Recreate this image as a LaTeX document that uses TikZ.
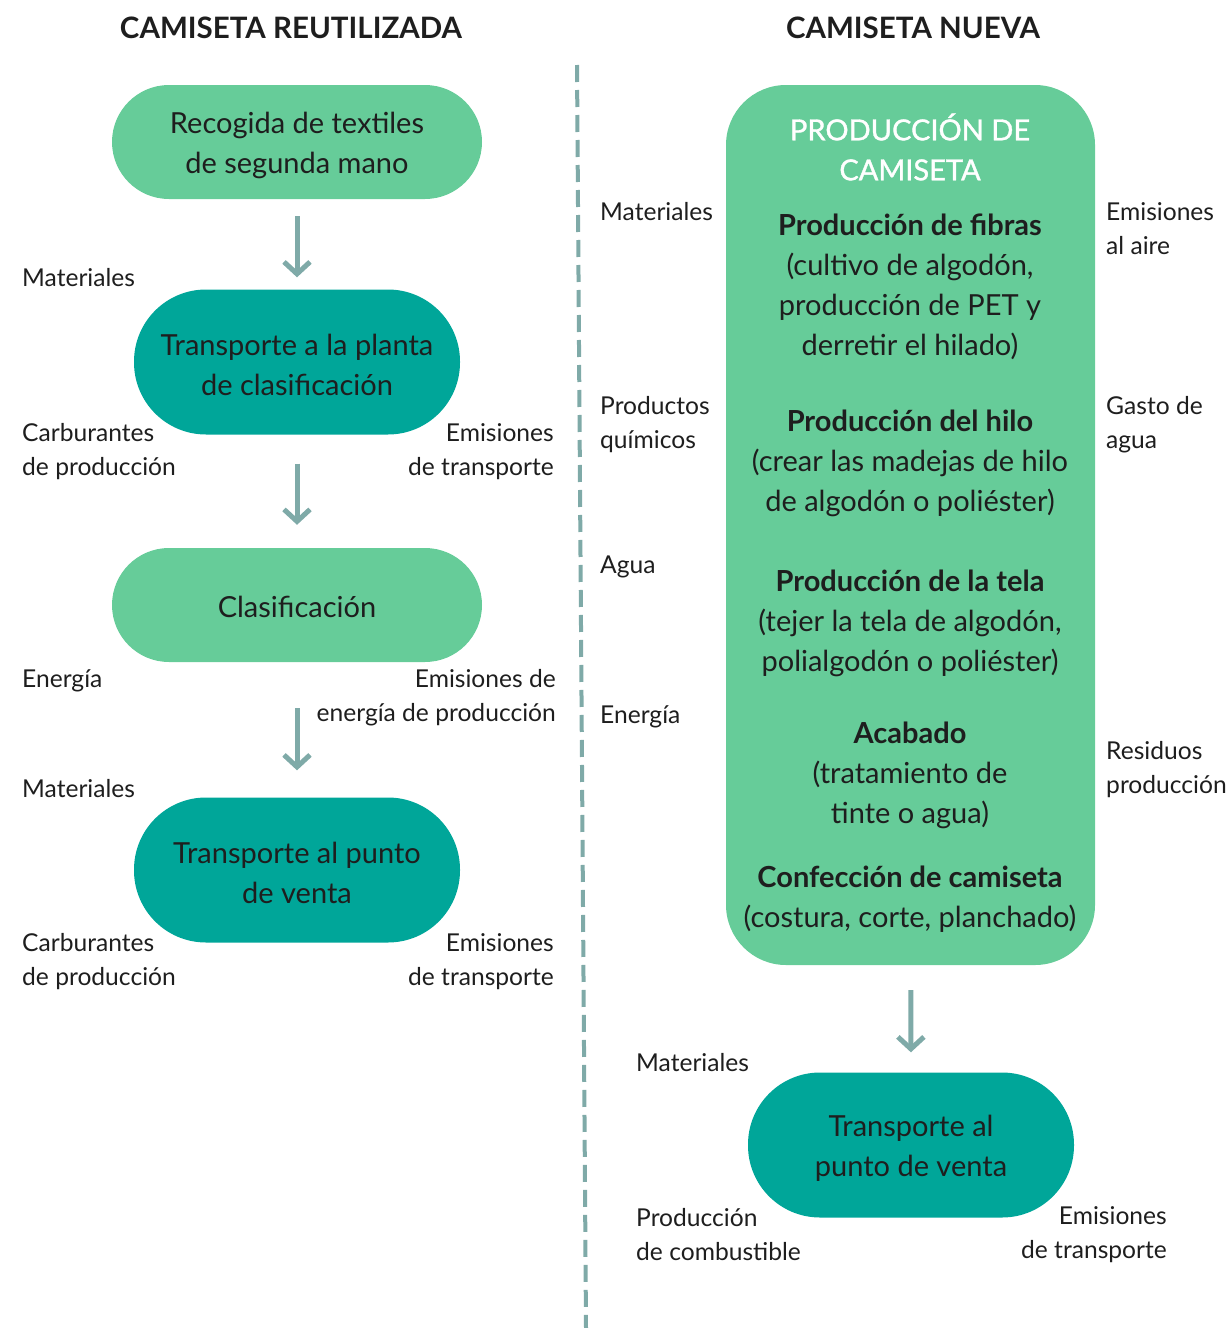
\documentclass[tikz,border=0pt]{standalone}
\usepackage{fontspec}
\setmainfont{Lato}
\newfontfamily\titlefont[FakeBold=1.2]{Lato}
\usetikzlibrary{arrows.meta}
\definecolor{lg}{HTML}{66CC99}
\definecolor{tl}{HTML}{00A699}
\definecolor{ar}{HTML}{7FAAA8}
\definecolor{tx}{HTML}{1E1E1E}
\begin{document}
\begin{tikzpicture}[x=1pt,y=-1pt,
  box/.style={fill=lg, rounded corners=57pt, minimum width=370pt, minimum height=114pt, inner sep=0pt},
  tbox/.style={fill=tl, rounded corners=72pt, minimum width=326pt, minimum height=145pt, inner sep=0pt},
  btext/.style={align=center, font=\fontsize{29}{40}\selectfont, text=tx, inner sep=0pt},
  lab/.style={font=\fontsize{24.6}{34}\selectfont, text=tx, inner sep=0pt},
  sec/.style={font=\fontsize{29}{40}\selectfont, text=tx, inner sep=0pt, align=center},
  hdr/.style={font=\fontsize{29.5}{32}\selectfont\bfseries, text=tx, inner sep=0pt},
  arr/.style={draw=ar, line width=5pt, -{Straight Barb[length=12pt,width=26pt]}}]
\useasboundingbox (0,0) rectangle (1230,1328);
% headers
\node[hdr] (h1) at (291,28) {CAMISETA REUTILIZADA};
\node[hdr] (h2) at (913,28) {CAMISETA NUEVA};
% dashed divider
\coordinate (dtop) at (577,65);
\coordinate (dbot) at (586,1328);
\draw[ar, line width=4pt, dash pattern=on 17pt off 8pt] (dtop) -- (dbot);
% left column
\node[box] (b1) at (297,142) {};
\node[btext] (b1t) at (297,145) {Recogida de textiles\\de segunda mano};
\node[tbox] (b2) at (297,362) {};
\node[btext] (b2t) at (297,365) {Transporte a la planta\\de clasificación};
\node[box] (b3) at (297,605) {};
\node[btext] (b3t) at (297,607) {Clasificación};
\node[tbox] (b4) at (297,870) {};
\node[btext] (b4t) at (297,873) {Transporte al punto\\de venta};
\draw[arr, shorten <=17pt, shorten >=12pt] (b1) -- (b2);
\draw[arr, shorten <=29pt, shorten >=23pt] (b2) -- (b3);
\draw[arr, shorten <=46pt, shorten >=27pt] (b3) -- (b4);
\node[lab, anchor=west] (l1) at (22,278) {Materiales};
\node[lab, anchor=west, align=left] (l2) at (22,452) {Carburantes\\de producción};
\node[lab, anchor=east, align=right] (l3) at (554,452) {Emisiones\\de transporte};
\node[lab, anchor=west] (l4) at (22,681) {Energía};
\node[lab, anchor=east, align=right] (l5) at (556,698) {Emisiones de\\energía de producción};
\node[lab, anchor=west] (l6) at (22,789) {Materiales};
\node[lab, anchor=west, align=left] (l7) at (22,962) {Carburantes\\de producción};
\node[lab, anchor=east, align=right] (l8) at (554,962) {Emisiones\\de transporte};
% right column
\node[fill=lg, rounded corners=60pt, minimum width=369pt, minimum height=880pt, inner sep=0pt] (big) at (910.5,525) {};
\node[sec, text=white, font=\fontsize{29}{40}\titlefont] (t0) at (910,147) {PRODUCCIÓN DE\\CAMISETA};
\node[sec] (s1) at (910,287) {\textbf{Producción de fibras}\\(cultivo de algodón,\\producción de PET y\\derretir el hilado)};
\node[sec] (s2) at (910,463) {\textbf{Producción del hilo}\\(crear las madejas de hilo\\de algodón o poliéster)};
\node[sec] (s3) at (910,623) {\textbf{Producción de la tela}\\(tejer la tela de algodón,\\polialgodón o poliéster)};
\node[sec] (s4) at (910,775) {\textbf{Acabado}\\(tratamiento de\\tinte o agua)};
\node[sec] (s5) at (910,899) {\textbf{Confección de camiseta}\\(costura, corte, planchado)};
\node[lab, anchor=west] (r1) at (600,212) {Materiales};
\node[lab, anchor=west, align=left] (r2) at (600,425) {Productos\\químicos};
\node[lab, anchor=west] (r3) at (600,567) {Agua};
\node[lab, anchor=west] (r4) at (600,717) {Energía};
\node[lab, anchor=west, align=left] (r5) at (1106,229) {Emisiones\\al aire};
\node[lab, anchor=west, align=left] (r6) at (1106,425) {Gasto de\\agua};
\node[lab, anchor=west, align=left] (r7) at (1106,770) {Residuos\\producción};
\node[tbox] (b6) at (911,1145) {};
\node[btext] (b6t) at (911,1148) {Transporte al\\punto de venta};
\draw[arr, shorten <=25pt, shorten >=20pt] (big) -- (b6);
\node[lab, anchor=west] (r8) at (636,1063) {Materiales};
\node[lab, anchor=west, align=left] (r9) at (636,1235) {Producción\\de combustible};
\node[lab, anchor=east, align=right] (r10) at (1167,1235) {Emisiones\\de transporte};
\end{tikzpicture}
\end{document}
